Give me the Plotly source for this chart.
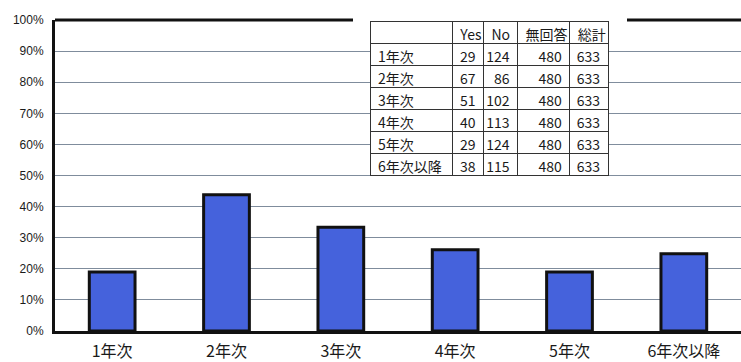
import plotly.graph_objects as go

# Survey responses by school year
years = ["1年次", "2年次", "3年次", "4年次", "5年次", "6年次以降"]
yes_counts = [29, 67, 51, 40, 29, 38]
no_counts = [124, 86, 102, 113, 124, 115]
no_answer = [480, 480, 480, 480, 480, 480]
totals = [633, 633, 633, 633, 633, 633]

header_labels = ["", "Yes", "No", "無回答", "総計"]
y_ticks = [i / 10 for i in range(11)]

# share of "Yes" among those who answered
yes_share = [y / (y + n) for y, n in zip(yes_counts, no_counts)]

W, H = 741, 362
ML, MR, MT, MB = 55, 0, 20, 29
PW, PH = W - ML - MR, H - MT - MB


def px_x(x):
    return (x - ML) / PW


def px_y(y):
    return 1 - (y - MT) / PH


CJK = "Noto Sans CJK JP, Liberation Sans, Arial, sans-serif"

fig = go.Figure()

fig.add_trace(go.Bar(
    x=years,
    y=yes_share,
    width=0.40,
    marker=dict(color="#4562DC", line=dict(color="#111111", width=3)),
    hoverinfo="skip",
))

fig.add_trace(go.Table(
    domain=dict(x=[px_x(370), px_x(609)], y=[px_y(180), px_y(22)]),
    columnwidth=[82, 31, 34, 52, 38],
    header=dict(
        values=header_labels,
        align=["left"] * 5,
        height=22,
        fill_color="white",
        line=dict(color="#333333", width=1),
        font=dict(family=CJK, size=14, color="#1a1a1a"),
    ),
    cells=dict(
        values=[years, yes_counts, no_counts, no_answer, totals],
        align=["left", "right", "right", "right", "right"],
        height=22,
        fill_color="white",
        line=dict(color="#333333", width=1),
        font=dict(family=CJK, size=14, color="#1a1a1a"),
    ),
))

shapes = [
    # heavy top frame line
    dict(type="line", xref="paper", yref="paper", x0=0, x1=1, y0=1, y1=1,
         line=dict(color="#111111", width=3), layer="between"),
    # blank backing behind the data table
    dict(type="rect", xref="paper", yref="paper",
         x0=px_x(353), x1=px_x(627), y0=px_y(186), y1=1.05,
         fillcolor="white", line=dict(width=0), layer="between"),
]

fig.update_layout(
    width=W, height=H,
    margin=dict(l=ML, r=MR, t=MT, b=MB, pad=0),
    paper_bgcolor="white",
    plot_bgcolor="white",
    showlegend=False,
    shapes=shapes,
    bargap=0.6,
)

fig.update_xaxes(
    showline=True, linecolor="#111111", linewidth=3,
    showgrid=False, ticks="",
    tickfont=dict(family=CJK, size=16, color="#1a1a1a"),
    ticklabelstandoff=4,
    fixedrange=True,
)

fig.update_yaxes(
    range=[0, 1],
    tickvals=y_ticks,
    tickformat=".0%",
    showline=True, linecolor="#111111", linewidth=3,
    showgrid=True, gridcolor="#7f8c9c", gridwidth=1,
    zeroline=False, ticks="",
    tickfont=dict(family="Liberation Sans, Arial, sans-serif", size=12, color="#1a1a1a"),
    ticklabelstandoff=6,
    fixedrange=True,
)

fig.write_html("out.html")
